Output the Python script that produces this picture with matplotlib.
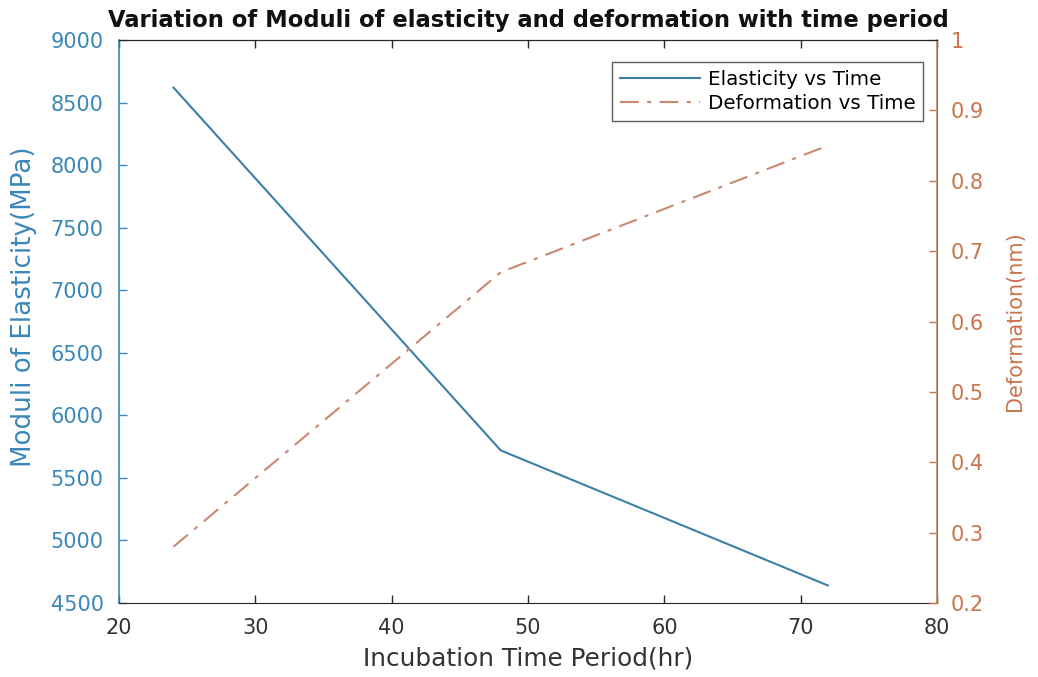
import matplotlib
matplotlib.use("Agg")
import matplotlib.pyplot as plt

plt.rcParams['font.family'] = ['DejaVu Sans']

# Measured data
time_hr = [24, 48, 72]
elasticity_mpa = [8620, 5720, 4640]
deformation_nm = [0.28, 0.67, 0.85]

x_ticks = [20, 30, 40, 50, 60, 70, 80]
left_ticks = [4500, 5000, 5500, 6000, 6500, 7000, 7500, 8000, 8500, 9000]
right_ticks = [0.2, 0.3, 0.4, 0.5, 0.6, 0.7, 0.8, 0.9, 1.0]
right_labels = ['0.2', '0.3', '0.4', '0.5', '0.6', '0.7', '0.8', '0.9', '1']

blue_axis = '#3a87b8'
blue_line = '#3b7fa6'
orange_axis = '#c9744c'
orange_spine = '#b8905e'
orange_line = '#c98872'
dark = '#262626'

fig = plt.figure(figsize=(10.38, 6.77), dpi=100)
ax = fig.add_axes([0.1146, 0.1093, 0.7881, 0.8316])
ax2 = ax.twinx()

l1, = ax.plot(time_hr, elasticity_mpa, color=blue_line, lw=1.5, label='Elasticity vs Time')
l2, = ax2.plot(time_hr, deformation_nm, color=orange_line, lw=1.5,
               linestyle=(0, (9, 4, 2, 4)), label='Deformation vs Time')

ax.set_xlim(20, 80)
ax.set_ylim(4500, 9000)
ax2.set_ylim(0.2, 1.0)

ax.set_xticks(x_ticks)
ax.set_yticks(left_ticks)
ax2.set_yticks(right_ticks)
ax2.set_yticklabels(right_labels)

ax.tick_params(axis='x', direction='in', top=True, length=6, width=1,
               colors=dark, labelsize=15, pad=11)
ax.tick_params(axis='y', direction='in', length=6, width=1,
               colors=blue_axis, labelsize=15, pad=11)
ax2.tick_params(axis='y', direction='in', length=6, width=1,
                colors=orange_axis, labelsize=15, pad=10)
for lab in ax.get_xticklabels():
    lab.set_color('#333333')

ax.spines['left'].set_color(blue_axis)
ax.spines['left'].set_linewidth(1.2)
ax.spines['bottom'].set_color(dark)
ax.spines['top'].set_color(dark)
ax2.spines['right'].set_color(orange_spine)
ax2.spines['right'].set_linewidth(1.2)
ax2.spines['left'].set_visible(False)
ax2.spines['top'].set_color(dark)
ax2.spines['bottom'].set_visible(False)

ax.set_xlabel('Incubation Time Period(hr)', fontsize=17.8, color='#333333', labelpad=6)
ax.set_ylabel('Moduli of Elasticity(MPa)', fontsize=18.8, color=blue_axis)
ax.yaxis.set_label_coords(-0.10, 0.527)
ax2.set_ylabel('Deformation(nm)', fontsize=15, color=orange_axis, labelpad=15)
ax.set_title('Variation of Moduli of elasticity and deformation with time period',
             fontsize=16.3, fontweight='bold', color='#111111', pad=9.5)

leg = ax2.legend(handles=[l1, l2], loc='upper right', bbox_to_anchor=(0.983, 0.961),
                 borderaxespad=0, fontsize=14.3, frameon=True, fancybox=False,
                 edgecolor='#333333', handlelength=4.0, borderpad=0.4,
                 labelspacing=0.25, handletextpad=0.4)
leg.get_frame().set_linewidth(1.0)

fig.savefig('out.png', dpi=100, facecolor='white')
